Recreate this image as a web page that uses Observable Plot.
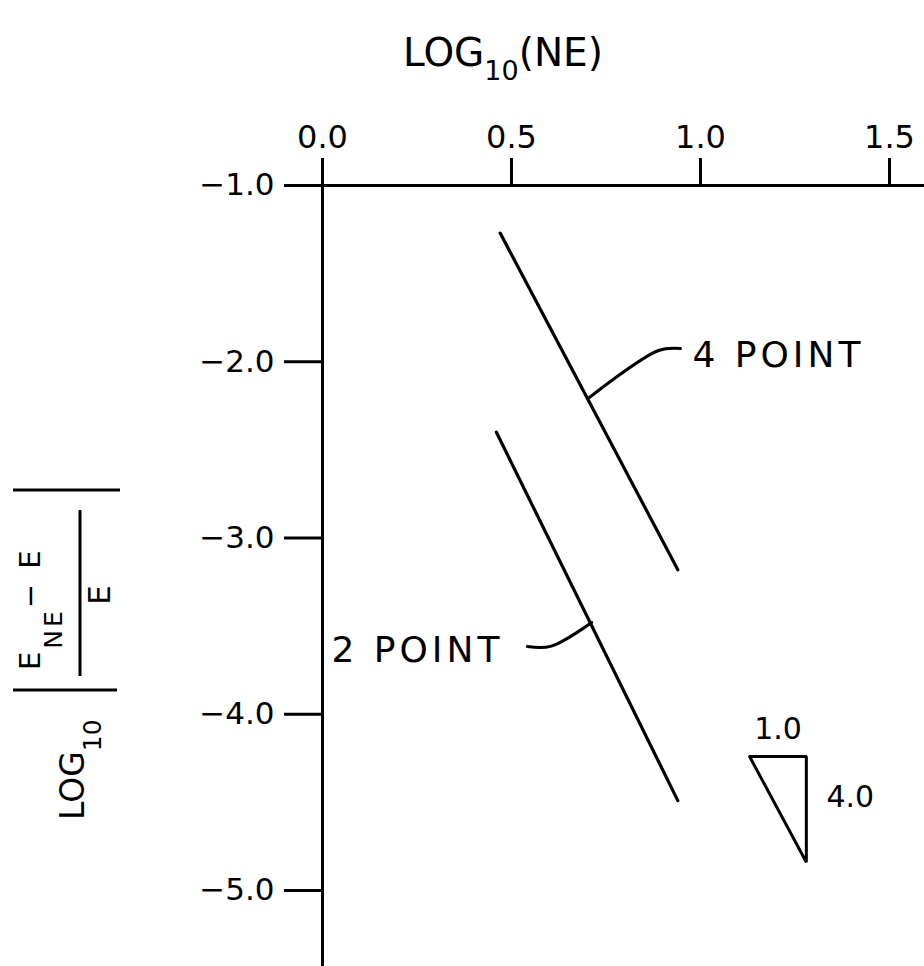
<!DOCTYPE html>
<html>
<head>
<meta charset="utf-8">
<script src="https://cdn.jsdelivr.net/npm/d3@7"></script>
<script src="https://cdn.jsdelivr.net/npm/@observablehq/plot@0.6"></script>
<style>
  html, body { margin: 0; padding: 0; background: #fff; }
  #chart { width: 924px; height: 966px; }
  #chart svg { font-family: "DejaVu Sans", sans-serif; }
  #chart g[aria-description="line label"] text { letter-spacing: 4px; }
</style>
</head>
<body>
<div id="chart"></div>
<script>
// Axis ticks
const xTicks = [0.0, 0.5, 1.0, 1.5];
const yTicks = [-1.0, -2.0, -3.0, -4.0, -5.0];

// Error lines: log10(NE) against log10 of the relative error
const fourPointX = [0.47, 0.94];
const fourPointY = [-1.27, -3.18];
const twoPointX = [0.46, 0.94];
const twoPointY = [-2.40, -4.49];

// Leader lines joining each label to its line
const fourLeaderX = [0.706, 0.889, 0.947];
const fourLeaderY = [-2.203, -1.936, -1.925];
const twoLeaderX = [0.712, 0.603, 0.542];
const twoLeaderY = [-3.479, -3.615, -3.615];
const lineLabels = ["4 POINT", "2 POINT"];

// Slope triangle: run 1.0, rise 4.0
const slopeRun = 1.0;
const slopeRise = 4.0;
const slopeUnit = 0.15;
const slopeOrigin = [1.13, -4.24];

const xMax = 1.5926, yMin = -5.431;
const ink = "#000";

const toRows = (xs, ys) => xs.map((x, i) => ({x, y: ys[i]}));
const fourRows = toRows(fourPointX, fourPointY);
const twoRows = toRows(twoPointX, twoPointY);
const fourLeader = toRows(fourLeaderX, fourLeaderY);
const twoLeader = toRows(twoLeaderX, twoLeaderY);

const [tx, ty] = slopeOrigin;
const tri = [
  {x: tx, y: ty},
  {x: tx + slopeRun * slopeUnit, y: ty},
  {x: tx + slopeRun * slopeUnit, y: ty - slopeRise * slopeUnit},
  {x: tx, y: ty}
];
const fmt = d3.format(".1f");

const chart = Plot.plot({
  width: 924,
  height: 966,
  marginLeft: 322,
  marginRight: 0,
  marginTop: 185,
  marginBottom: 0,
  style: {background: "#fff", color: ink},
  x: {domain: [0, xMax], axis: null},
  y: {domain: [yMin, -1], axis: null},
  marks: [
    Plot.ruleY([-1], {stroke: ink, strokeWidth: 3}),
    Plot.ruleX([0], {stroke: ink, strokeWidth: 3}),
    Plot.axisX(xTicks, {anchor: "top", label: null, tickSize: 28, tickPadding: 10, tickFormat: fmt,
      fontSize: 32, strokeWidth: 3, stroke: ink, fill: ink}),
    Plot.axisY(yTicks, {anchor: "left", label: null, tickSize: 38, tickPadding: 10, tickFormat: fmt,
      fontSize: 31, strokeWidth: 3, stroke: ink, fill: ink}),
    Plot.line(fourRows, {x: "x", y: "y", stroke: ink, strokeWidth: 3.2}),
    Plot.line(twoRows, {x: "x", y: "y", stroke: ink, strokeWidth: 3.2}),
    Plot.line(fourLeader, {x: "x", y: "y", stroke: ink, strokeWidth: 3, curve: "catmull-rom"}),
    Plot.line(twoLeader, {x: "x", y: "y", stroke: ink, strokeWidth: 3, curve: "catmull-rom"}),
    Plot.text([fourLeader[2]], {x: "x", y: "y", text: () => lineLabels[0], textAnchor: "start",
      dx: 12, dy: 7, fontSize: 36, fill: ink, ariaDescription: "line label"}),
    Plot.text([twoLeader[2]], {x: "x", y: "y", text: () => lineLabels[1], textAnchor: "end",
      dx: -24, dy: 4, fontSize: 36, fill: ink, ariaDescription: "line label"}),
    Plot.line(tri, {x: "x", y: "y", stroke: ink, strokeWidth: 3, strokeLinejoin: "miter"}),
    Plot.text([tri[0]], {x: d => d.x + slopeRun * slopeUnit / 2, y: "y", text: () => fmt(slopeRun),
      dy: -27, fontSize: 30, fill: ink}),
    Plot.text([tri[1]], {x: "x", y: d => d.y - slopeRise * slopeUnit / 2, text: () => fmt(slopeRise),
      dx: 44, dy: -12, fontSize: 30, fill: ink})
  ]
});

document.getElementById("chart").appendChild(chart);

// Axis titles
const svg = d3.select(chart);
const title = svg.append("text")
  .attr("x", 503).attr("y", 66).attr("text-anchor", "middle")
  .attr("font-size", 39).attr("fill", ink);
title.append("tspan").text("LOG");
title.append("tspan").attr("font-size", 27).attr("dy", 14).text("10");
title.append("tspan").attr("dy", -14).text("(NE)");

// Vertical title: LOG10 | (E_NE − E) / E |
const yl = svg.append("g").attr("transform", "rotate(-90)")
  .attr("fill", ink).attr("text-anchor", "start");
const logText = yl.append("text").attr("x", -820).attr("y", 84).attr("font-size", 33);
logText.append("tspan").text("LOG");
logText.append("tspan").attr("font-size", 25).attr("dy", 17).text("10");
yl.append("line").attr("x1", -690).attr("x2", -690).attr("y1", 13).attr("y2", 117)
  .attr("stroke", ink).attr("stroke-width", 3);
yl.append("line").attr("x1", -490).attr("x2", -490).attr("y1", 13).attr("y2", 120)
  .attr("stroke", ink).attr("stroke-width", 3);
yl.append("line").attr("x1", -676).attr("x2", -510).attr("y1", 80).attr("y2", 80)
  .attr("stroke", ink).attr("stroke-width", 3);
const num = yl.append("text").attr("x", -670).attr("y", 40)
  .attr("font-size", 29).attr("letter-spacing", 3);
num.append("tspan").text("E");
num.append("tspan").attr("font-size", 25).attr("dy", 22).text("NE");
num.append("tspan").attr("dy", -22).text("− E");
yl.append("text").attr("x", -595).attr("y", 110).attr("text-anchor", "middle")
  .attr("font-size", 31).text("E");
</script>
</body>
</html>
